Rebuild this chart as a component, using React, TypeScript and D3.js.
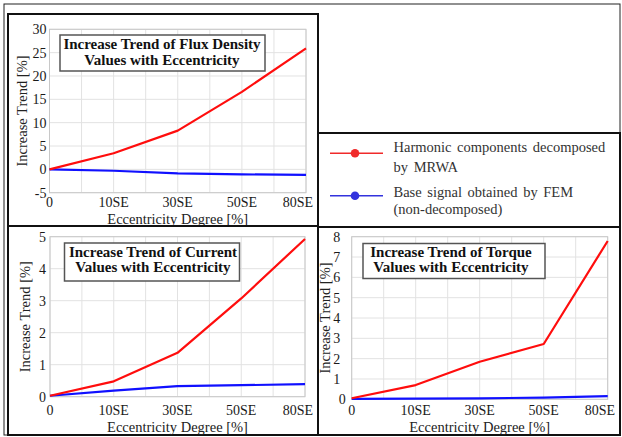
import React from "react";
import * as d3 from "d3";

// Eccentricity levels (evenly spaced categories on the x axis)
const categories = ["0", "10SE", "30SE", "50SE", "80SE"];

// Flux density increase trend [%]
const fluxHarmonic = [0, 3.45, 8.3, 16.6, 25.9];
const fluxBase = [0, -0.3, -0.86, -1.07, -1.2];
const fluxTicks = [-5, 0, 5, 10, 15, 20, 25, 30];

// Current increase trend [%]
const currentHarmonic = [0.03, 0.48, 1.37, 3.07, 4.93];
const currentBase = [0.03, 0.19, 0.33, 0.36, 0.39];
const currentTicks = [0, 1, 2, 3, 4, 5];

// Torque increase trend [%]
const torqueHarmonic = [0.05, 0.7, 1.85, 2.72, 7.79];
const torqueBase = [0.02, 0.03, 0.05, 0.08, 0.16];
const torqueTicks = [0, 1, 2, 3, 4, 5, 6, 7, 8];

const legendLabels = [
  ["Harmonic components decomposed", "by MRWA"],
  ["Base signal obtained by FEM", "(non-decomposed)"],
];

const RED = "#ff0d0d";
const BLUE = "#1010ff";
const SERIF = "'Liberation Serif', 'Times New Roman', serif";

type PanelProps = {
  frame: [number, number, number, number];
  plot: { x0: number; x1: number; yTop: number; yBottom: number };
  ticks: number[];
  harmonic: number[];
  base: number[];
  title: [string, string];
  titleBox: { x: number; y: number; w: number; h: number; cx: number; lineY: [number, number] };
  yLabelX: number;
  yTickGap: number;
  zeroTickGap?: number;
  tickLabelY: number;
  xLabelY: number;
};

function Panel(p: PanelProps) {
  const { plot, ticks } = p;
  const x = d3.scaleLinear().domain([0, categories.length - 1]).range([plot.x0, plot.x1]);
  const y = d3
    .scaleLinear()
    .domain([ticks[0], ticks[ticks.length - 1]])
    .range([plot.yBottom, plot.yTop]);
  const line = d3
    .line<number>()
    .x((_, i) => x(i))
    .y((v) => y(v));
  const vGrid = d3.range(0, categories.length - 1 + 0.001, 0.5);
  const [fx, fy, fw, fh] = p.frame;
  const cx = (plot.x0 + plot.x1) / 2;
  const cy = (plot.yTop + plot.yBottom) / 2;
  // last tick label is pulled inside the panel frame
  const labelRightLimit = fx + fw - 5;
  return (
    <g>
      <rect x={fx} y={fy} width={fw} height={fh} fill="white" stroke="#111" strokeWidth={2} />
      {/* grid */}
      {vGrid.map((g) => (
        <line key={"v" + g} x1={x(g)} x2={x(g)} y1={plot.yTop} y2={plot.yBottom} stroke="#e2e2e2" strokeWidth={1} />
      ))}
      {ticks.map((t) => (
        <line key={"h" + t} x1={plot.x0} x2={plot.x1} y1={y(t)} y2={y(t)} stroke="#e2e2e2" strokeWidth={1} />
      ))}
      <rect
        x={plot.x0}
        y={plot.yTop}
        width={plot.x1 - plot.x0}
        height={plot.yBottom - plot.yTop}
        fill="none"
        stroke="#c8c8c8"
        strokeWidth={1}
      />
      {/* y tick labels */}
      {ticks.map((t) => (
        <text
          key={"yt" + t}
          x={plot.x0 - (t === 0 && p.zeroTickGap !== undefined ? p.zeroTickGap : p.yTickGap)}
          y={y(t)}
          dy="0.35em"
          textAnchor="end"
          fontFamily={SERIF}
          fontSize={14}
          fill="#1a1a1a"
        >
          {t}
        </text>
      ))}
      {/* x tick labels */}
      {categories.map((c, i) => {
        const overflow = x(i) + 15 > labelRightLimit;
        return (
          <text
            key={"xt" + c}
            x={overflow ? labelRightLimit : x(i)}
            y={p.tickLabelY}
            textAnchor={overflow ? "end" : "middle"}
            fontFamily={SERIF}
            fontSize={14}
            fill="#1a1a1a"
          >
            {c}
          </text>
        );
      })}
      <text x={cx} y={p.xLabelY} textAnchor="middle" fontFamily={SERIF} fontSize={14.5} fill="#222">
        Eccentricity Degree [%]
      </text>
      <text
        transform={`translate(${p.yLabelX},${cy}) rotate(-90)`}
        textAnchor="middle"
        dy="0.35em"
        fontFamily={SERIF}
        fontSize={14.5}
        fill="#222"
      >
        Increase Trend [%]
      </text>
      {/* series */}
      <path d={line(p.base) ?? ""} fill="none" stroke={BLUE} strokeWidth={2.2} strokeLinejoin="round" />
      <path d={line(p.harmonic) ?? ""} fill="none" stroke={RED} strokeWidth={2.2} strokeLinejoin="round" />
      {/* title box */}
      <rect
        x={p.titleBox.x}
        y={p.titleBox.y}
        width={p.titleBox.w}
        height={p.titleBox.h}
        fill="white"
        stroke="#555"
        strokeWidth={1.5}
      />
      {p.title.map((t, i) => (
        <text
          key={t}
          x={p.titleBox.cx}
          y={p.titleBox.lineY[i]}
          dy="0.35em"
          textAnchor="middle"
          fontFamily={SERIF}
          fontWeight="bold"
          fontSize={15}
          fill="#111"
        >
          {t}
        </text>
      ))}
    </g>
  );
}

function Legend() {
  const rows = [
    { color: "#f02a2a", y: 153.3, textY: [146.7, 166.7] },
    { color: "#3333dd", y: 195.7, textY: [191.7, 209.3] },
  ];
  return (
    <g>
      <rect x={318} y={133} width={302} height={94} fill="white" stroke="#111" strokeWidth={2} />
      {rows.map((r, i) => (
        <g key={i}>
          <line x1={330} x2={383} y1={r.y} y2={r.y} stroke={r.color} strokeWidth={1.6} />
          <circle cx={355} cy={r.y} r={4.3} fill={r.color} />
          {legendLabels[i].map((t, j) => (
            <text
              key={t}
              x={393.5}
              y={r.textY[j]}
              dy="0.35em"
              fontFamily={SERIF}
              fontSize={14.5}
              fill="#333"
              wordSpacing={2}
            >
              {t}
            </text>
          ))}
        </g>
      ))}
    </g>
  );
}

export default function App() {
  return (
    <svg
      width={622}
      height={437}
      style={{ position: "absolute", left: 0, top: 0, background: "white" }}
      xmlns="http://www.w3.org/2000/svg"
    >
      <rect x={0} y={0} width={622} height={437} fill="white" />
      <rect x={4} y={4} width={616} height={431} fill="none" stroke="#222" strokeWidth={1} />
      <Panel
        frame={[8, 14, 310, 212]}
        plot={{ x0: 49.5, x1: 306, yTop: 29.3, yBottom: 192.7 }}
        ticks={fluxTicks}
        harmonic={fluxHarmonic}
        base={fluxBase}
        title={["Increase Trend of Flux Density", "Values with Eccentricity"]}
        titleBox={{ x: 60, y: 35, w: 205, h: 36, cx: 162, lineY: [43.5, 59.5] }}
        yLabelX={22}
        yTickGap={3}
        tickLabelY={207}
        xLabelY={223.5}
      />
      <Panel
        frame={[8, 226, 310, 209]}
        plot={{ x0: 50, x1: 305, yTop: 236.7, yBottom: 396.7 }}
        ticks={currentTicks}
        harmonic={currentHarmonic}
        base={currentBase}
        title={["Increase Trend of Current", "Values with Eccentricity"]}
        titleBox={{ x: 64.5, y: 243, w: 175, h: 38, cx: 153, lineY: [252, 267] }}
        yLabelX={25}
        yTickGap={4}
        tickLabelY={415}
        xLabelY={432}
      />
      <Panel
        frame={[318, 226, 302, 209]}
        plot={{ x0: 351.7, x1: 607.7, yTop: 236.7, yBottom: 399.3 }}
        ticks={torqueTicks}
        harmonic={torqueHarmonic}
        base={torqueBase}
        title={["Increase Trend of Torque", "Values with Eccentricity"]}
        titleBox={{ x: 363, y: 243.5, w: 182, h: 35, cx: 451, lineY: [251.5, 266.5] }}
        yLabelX={324.5}
        yTickGap={11.5}
        zeroTickGap={6}
        tickLabelY={415}
        xLabelY={432}
      />
      <Legend />
    </svg>
  );
}
